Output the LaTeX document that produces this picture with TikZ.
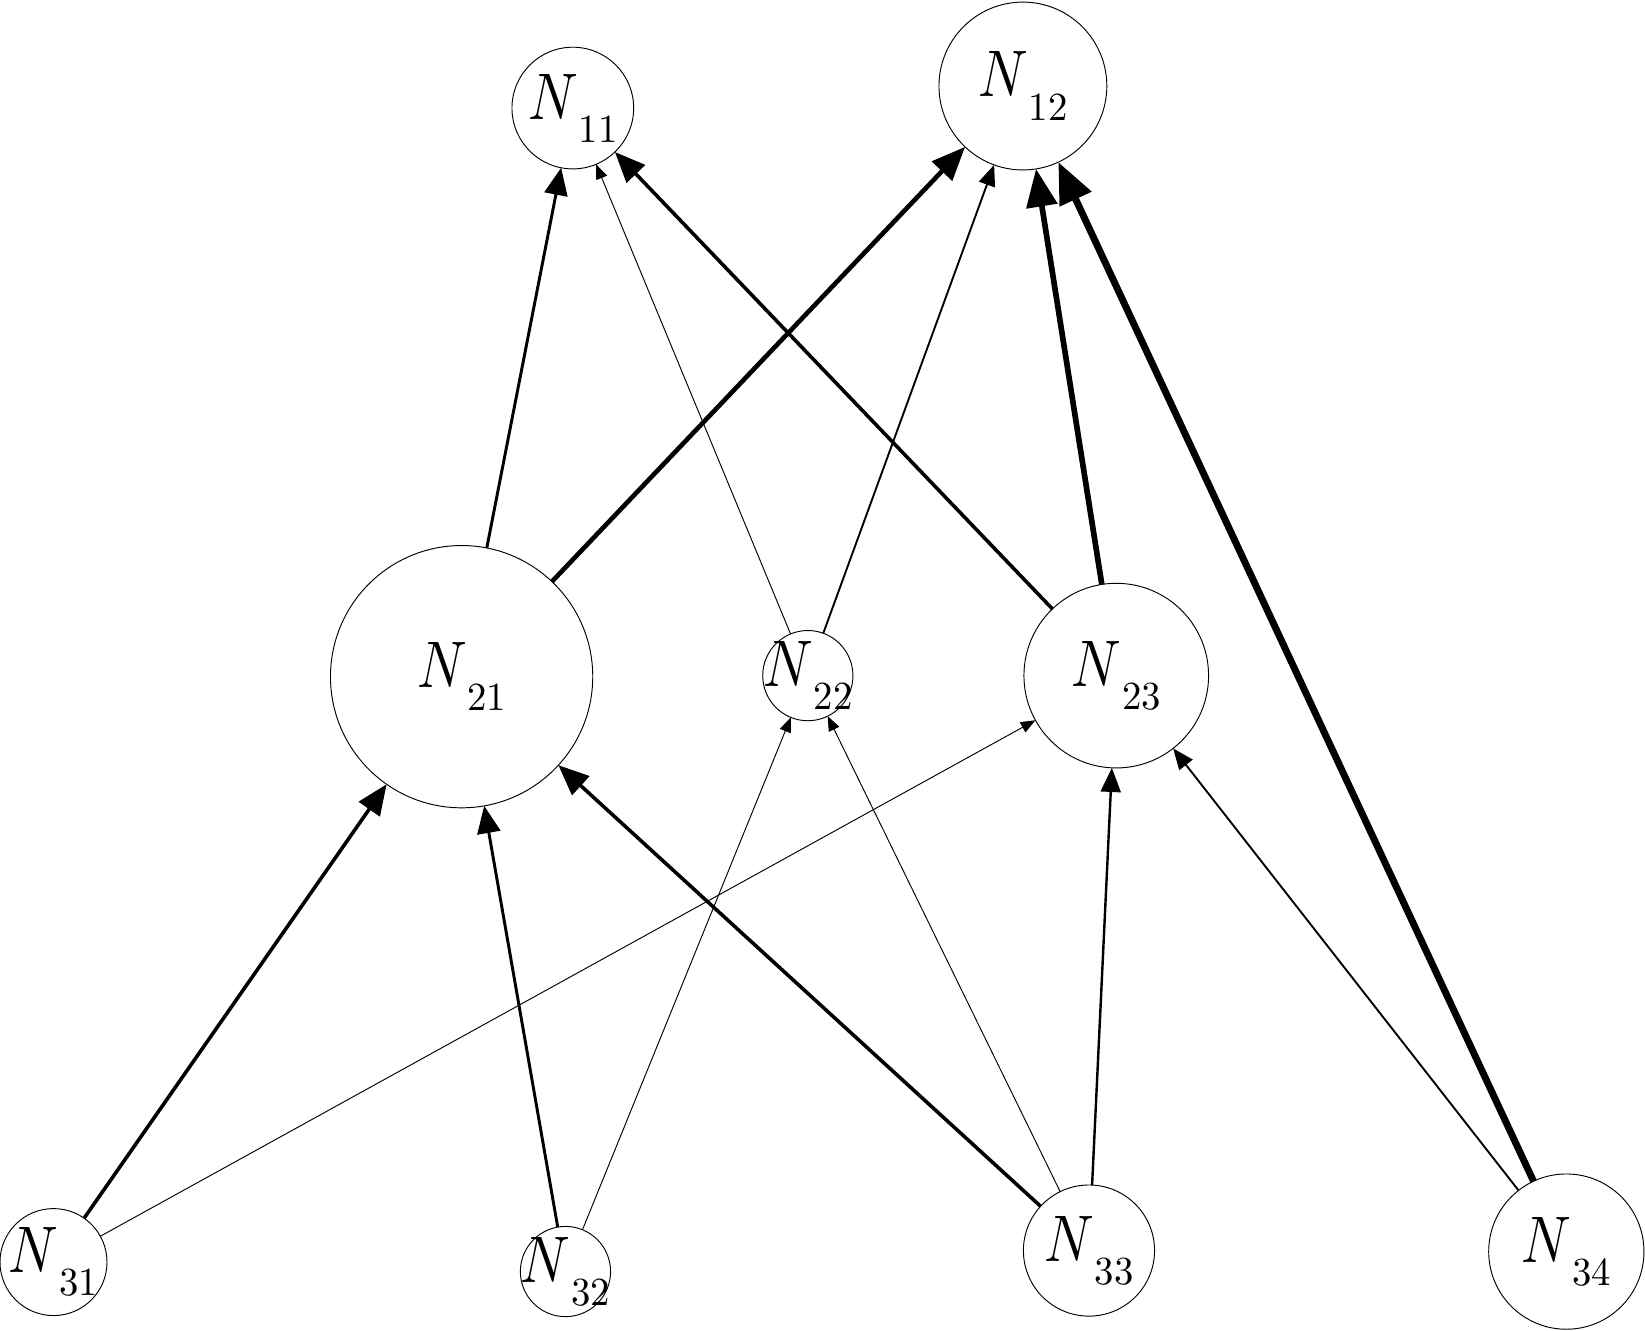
\documentclass[tikz,border=0pt]{standalone}
\usetikzlibrary{arrows.meta}
\newcommand\nlab[1]{\scalebox{2.6}[3.14]{$N$}\hspace{0.3pt}\raisebox{-11pt}{\scalebox{1.85}[1.9]{#1}}}
\tikzset{
  nd/.style={circle,draw,line width=0.45pt,inner sep=0pt,outer sep=0pt,minimum size=#1},
  lab/.style={inner sep=0pt,outer sep=0pt},
  e0/.style={line width=0.45pt,-{Triangle[length=7pt,width=5.5pt]}},
  e1/.style={line width=0.9pt,-{Triangle[length=10pt,width=8pt]}},
  e15/.style={line width=1.15pt,-{Triangle[length=11.5pt,width=9.5pt]}},
  e2/.style={line width=1.4pt,-{Triangle[length=13pt,width=11pt]}},
  e3/.style={line width=1.7pt,-{Triangle[length=14.5pt,width=12pt]}},
  e4/.style={line width=2.2pt,-{Triangle[length=16pt,width=13pt]}},
  e5/.style={line width=2.7pt,-{Triangle[length=18pt,width=14.5pt]}},
  e6/.style={line width=3.3pt,-{Triangle[length=19.5pt,width=16pt]}},
}
\begin{document}
\begin{tikzpicture}[x=0.5pt,y=-0.5pt]
\useasboundingbox (0,0) rectangle (1568,1268);
% nodes (minimum size = diameter in px * 0.5pt)
\node[nd=58pt]  (n11) at (546,103) {};
\node[nd=80pt]  (n12) at (975,82) {};
\node[nd=125pt] (n21) at (440,645) {};
\node[nd=43pt]  (n22) at (770,644) {};
\node[nd=88pt]  (n23) at (1064,644) {};
\node[nd=51pt]  (n31) at (51,1203) {};
\node[nd=43pt]  (n32) at (539,1212) {};
\node[nd=62.5pt](n33) at (1038,1192) {};
\node[nd=74pt]  (n34) at (1493,1193) {};
% labels
\node[lab] (t11) at (n11) {\nlab{11}};
\node[lab] (t12) at (n12) {\nlab{12}};
\node[lab] (t21) at (n21) {\nlab{21}};
\node[lab] (t22) at (n22) {\nlab{22}};
\node[lab] (t23) at (n23) {\nlab{23}};
\node[lab] (t31) at (n31) {\nlab{31}};
\node[lab] (t32) at (n32) {\nlab{32}};
\node[lab] (t33) at (n33) {\nlab{33}};
\node[lab] (t34) at (n34) {\nlab{34}};
% edges
\draw[e2]  (n21) -- (n11);
\draw[e0]  (n22) -- (n11);
\draw[e3]  (n23) -- (n11);
\draw[e4]  (n21) -- (n12);
\draw[e1]  (n22) -- (n12);
\draw[e5]  (n23) -- (n12);
\draw[e6]  (n34) -- (n12);
\draw[e3]  (n31) -- (n21);
\draw[e2]  (n32) -- (n21);
\draw[e3]  (n33) -- (n21);
\draw[e0]  (n31) -- (n23);
\draw[e0]  (n32) -- (n22);
\draw[e0]  (n33) -- (n22);
\draw[e15] (n33) -- (n23);
\draw[e1]  (n34) -- (n23);
\end{tikzpicture}
\end{document}
